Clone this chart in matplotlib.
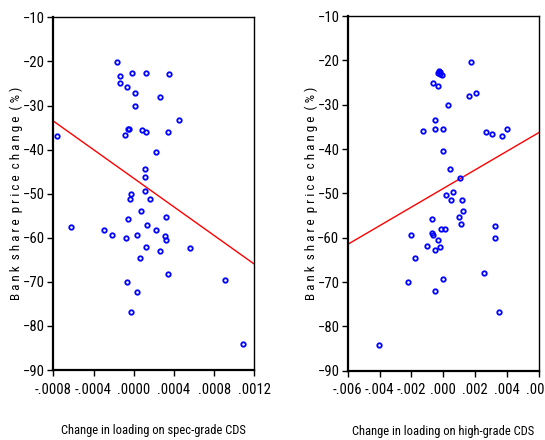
import matplotlib
matplotlib.use("Agg")
import matplotlib.pyplot as plt
import numpy as np
from matplotlib.ticker import FuncFormatter

# ------------------ data ------------------
spec_x = [-0.000169, -0.000133, -0.000133, -0.000070, -0.000014, 0.000016,
          0.000125, 0.000354, 0.000010, 0.000265, 0.000454, -0.000763,
          -0.000054, -0.000049, -0.000084, 0.000080, 0.000120, 0.000338,
          0.000222, 0.000110, 0.000110, 0.000112, -0.000027, -0.000040,
          0.000159, 0.000076, -0.000054, 0.000324, -0.000627, -0.000296,
          -0.000213, -0.000080, 0.000030, 0.000132, 0.000225, 0.000314,
          0.000318, 0.000120, 0.000265, 0.000560, 0.000066, 0.000338,
          -0.000070, 0.000036, -0.000030, 0.000911, 0.001084]
spec_y = [-20.2, -23.2, -24.9, -25.8, -22.7, -27.2,
          -22.6, -22.9, -30.1, -28.0, -33.3, -36.9,
          -35.4, -35.3, -36.6, -35.6, -35.9, -36.1,
          -40.5, -44.4, -46.2, -49.4, -50.1, -51.2,
          -51.2, -53.9, -55.7, -55.4, -57.5, -58.2,
          -59.4, -60.1, -59.3, -57.1, -58.2, -59.5,
          -60.6, -62.1, -62.9, -62.3, -64.7, -68.2,
          -70.0, -72.2, -76.8, -69.5, -84.0]

high_x = [0.00177, -0.00026, -0.00018, -0.00035, -0.00022, -0.00006,
          -0.00064, -0.00031, 0.00164, 0.00204, 0.00030, -0.00050,
          -0.00127, -0.00050, 0.00001, -0.00003, 0.00271, 0.00309,
          0.00368, 0.00403, 0.00043, 0.00104, 0.00020, 0.00064,
          0.00051, 0.00116, 0.00123, -0.00070, 0.00100, 0.00109,
          0.00325, 0.00327, -0.00205, -0.00068, -0.00066, -0.00012,
          0.00013, -0.00030, -0.00105, -0.00050, -0.00018, -0.00177,
          0.00255, -0.00221, 0.00001, -0.00053, 0.00349, -0.00401]
high_y = [-20.3, -22.5, -22.7, -22.9, -23.1, -23.3,
          -25.0, -25.8, -28.0, -27.3, -30.1, -33.4,
          -35.9, -35.5, -35.5, -40.4, -36.1, -36.6,
          -37.0, -35.5, -44.4, -46.6, -50.4, -49.7,
          -51.6, -51.6, -53.9, -55.7, -55.4, -57.0,
          -57.4, -60.0, -59.4, -59.0, -59.4, -58.1,
          -58.0, -60.5, -61.9, -62.7, -62.2, -64.5,
          -68.0, -69.9, -69.3, -72.0, -76.7, -84.2]

# fitted lines (intercept, slope) as drawn in the reference
spec_fit = (-46.5, -16225.0)
high_fit = (-48.9, 2100.0)

spec_xlim = (-0.0008, 0.0012)
spec_xticks = [-0.0008, -0.0004, 0.0, 0.0004, 0.0008, 0.0012]
high_xlim = (-0.006, 0.006)
high_xticks = [-0.006, -0.004, -0.002, 0.0, 0.002, 0.004, 0.006]
yticks = [-90, -80, -70, -60, -50, -40, -30, -20, -10]

ylabel = "Bank share price change (%)"
spec_label = "Change in loading on spec-grade CDS"
high_label = "Change in loading on high-grade CDS"

plt.rcParams["font.family"] = ["Liberation Sans Narrow", "Roboto Condensed",
                               "DejaVu Sans Condensed", "Liberation Sans", "DejaVu Sans"]
plt.rcParams["font.stretch"] = "condensed"


def dec_fmt(nd):
    def f(v, pos):
        s = f"{v:.{nd}f}"
        if s.startswith("-0."):
            s = "-" + s[2:]
        elif s.startswith("0."):
            s = s[1:]
        return s
    return FuncFormatter(f)


def spaced(t):
    # letter-spaced label like the original
    return "  ".join(" ".join(list(word)) for word in t.split(" "))


def panel(ax, x, y, fit, xlim, xticks, nd, xlabel, ylab_x):
    ax.plot(x, y, "o", ms=3.2, mfc="none", mec="#0000ff", mew=1.3, zorder=3)
    xs = np.array(xlim)
    ax.plot(xs, fit[0] + fit[1] * xs, color="#ff0000", lw=1.0, zorder=2)
    ax.set_xlim(*xlim)
    ax.set_ylim(-90, -10)
    ax.set_xticks(xticks)
    ax.set_yticks(yticks)
    ax.xaxis.set_major_formatter(dec_fmt(nd))
    ax.tick_params(direction="out", length=4, width=1.0, labelsize=10.5,
                   colors="black", pad=2)
    ax.tick_params(axis="x", pad=5)
    for s in ["left", "bottom"]:
        ax.spines[s].set_linewidth(1.6)
    for s in ["top", "right"]:
        ax.spines[s].set_linewidth(1.0)
    ax.set_xlabel(xlabel, fontsize=9, labelpad=20)
    ax.set_ylabel(spaced(ylabel), fontsize=9.5)
    ax.yaxis.set_label_coords(ylab_x, 0.5)


fig = plt.figure(figsize=(5.45, 4.4), dpi=100)
ax1 = fig.add_axes([0.0978, 0.159, 0.3688, 0.8016])
ax2 = fig.add_axes([0.638, 0.1575, 0.3505, 0.806])

panel(ax1, spec_x, spec_y, spec_fit, spec_xlim, spec_xticks, 4, spec_label, -0.15)
panel(ax2, high_x, high_y, high_fit, high_xlim, high_xticks, 3, high_label, -0.155)

fig.savefig("out.png", dpi=100)
